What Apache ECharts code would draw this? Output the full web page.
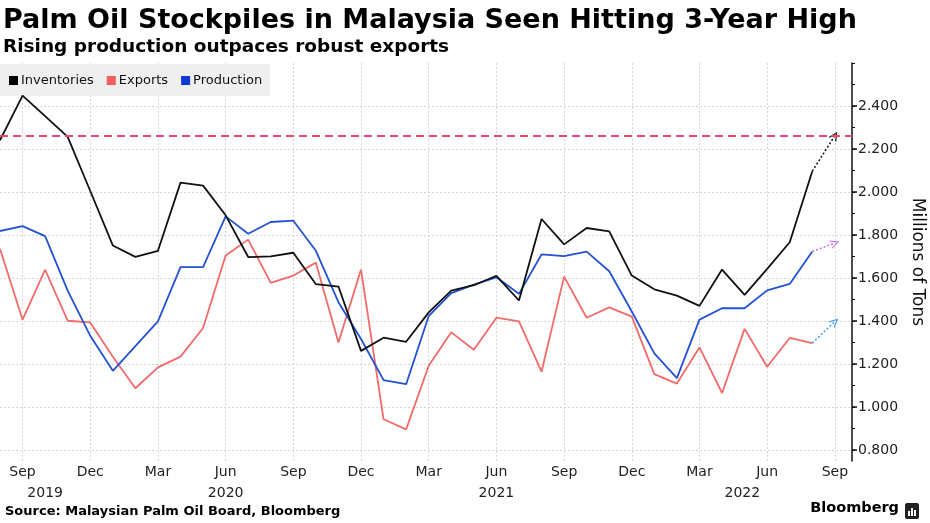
<!DOCTYPE html>
<html><head><meta charset="utf-8">
<script src="https://cdn.jsdelivr.net/npm/echarts@6/dist/echarts.min.js"></script>
<style>html,body{margin:0;padding:0;background:#fff}#c{width:930px;height:523px}</style>
</head><body><div id="c"></div>
<script>
const months = ['Aug 2019','Sep 2019','Oct 2019','Nov 2019','Dec 2019',
  'Jan 2020','Feb 2020','Mar 2020','Apr 2020','May 2020','Jun 2020','Jul 2020','Aug 2020','Sep 2020','Oct 2020','Nov 2020','Dec 2020',
  'Jan 2021','Feb 2021','Mar 2021','Apr 2021','May 2021','Jun 2021','Jul 2021','Aug 2021','Sep 2021','Oct 2021','Nov 2021','Dec 2021',
  'Jan 2022','Feb 2022','Mar 2022','Apr 2022','May 2022','Jun 2022','Jul 2022','Aug 2022'];
const projectionMonth = 'Sep 2022';
const inventories = [2.241,2.448,2.353,2.257,2.005,1.752,1.699,1.727,2.044,2.030,1.892,1.698,1.701,1.718,1.572,1.561,1.262,
  1.323,1.304,1.441,1.542,1.567,1.611,1.496,1.875,1.757,1.833,1.817,1.612,1.548,1.519,1.471,1.640,1.522,1.643,1.767,2.097];
const exportsData = [1.737,1.407,1.639,1.402,1.394,1.235,1.088,1.185,1.235,1.368,1.705,1.779,1.578,1.612,1.672,1.301,1.640,
  0.944,0.897,1.193,1.348,1.267,1.416,1.399,1.165,1.607,1.416,1.464,1.421,1.154,1.110,1.278,1.066,1.364,1.188,1.322,1.298];
const production = [1.819,1.842,1.795,1.542,1.332,1.169,1.284,1.399,1.651,1.651,1.887,1.806,1.861,1.867,1.727,1.488,1.317,
  1.126,1.107,1.424,1.530,1.570,1.604,1.527,1.710,1.702,1.723,1.632,1.445,1.250,1.135,1.407,1.460,1.460,1.543,1.573,1.724];
const inventoriesProjection = 2.262;
const exportsProjection = 1.398;
const productionProjection = 1.763;
const threeYearHigh = 2.262;
const monthTickNames = ['Sep','Dec','Mar','Jun'];
const yearLabels = ['2019','2020','2021','2022'];
const yearLabelAt = [2, 10, 22, 32.9];
const yTickLabels = [0.8,1.0,1.2,1.4,1.6,1.8,2.0,2.2,2.4];
const yMinorTicks = [0.8,0.9,1.0,1.1,1.2,1.3,1.4,1.5,1.6,1.7,1.8,1.9,2.0,2.1,2.2,2.3,2.4,2.5,2.6];

const allMonths = months.concat([projectionMonth]);
const monthTicks = [];
allMonths.forEach((m, i) => { if (monthTickNames.indexOf(m.split(' ')[0]) >= 0) monthTicks.push(i); });
const pairs = arr => arr.map((v, i) => [i, v]);
const last = months.length - 1;
const proj = months.length;

const FONT = 'DejaVu Sans';
const chevron = 'path://M0,10 L5,0 L10,10 L8.6,10 L5,2.8 L1.4,10 Z';

function projLine(lastVal, projVal, color) {
  return {
    silent: true, symbol: ['none', chevron], symbolSize: [9, 9],
    label: {show: false},
    lineStyle: {type: [2, 2], width: 1.5, color: color},
    data: [[{coord: [last, lastVal]}, {coord: [proj, projVal]}]]
  };
}

const chart = echarts.init(document.getElementById('c'));
chart.setOption({
  animation: false,
  backgroundColor: '#fff',
  title: [
    {text: 'Palm Oil Stockpiles in Malaysia Seen Hitting 3-Year High', left: 0, top: 7, padding: [0, 3],
     textStyle: {fontFamily: FONT, fontWeight: 'bold', fontSize: 27, color: '#000'}},
    {text: 'Rising production outpaces robust exports', left: 0, top: 38, padding: [0, 3],
     textStyle: {fontFamily: FONT, fontWeight: 'bold', fontSize: 18.5, color: '#000'}},
    {text: 'Source: Malaysian Palm Oil Board, Bloomberg', left: 0, top: 505, padding: [0, 5],
     textStyle: {fontFamily: FONT, fontWeight: 'bold', fontSize: 13, color: '#000'}},
    {text: 'Bloomberg', right: 31, top: 501, padding: 0,
     textStyle: {fontFamily: FONT, fontWeight: 'bold', fontSize: 14.5, color: '#000'}}
  ],
  graphic: [
    {type: 'group', left: 905, top: 503, children: [
      {type: 'rect', shape: {x: 0, y: 0, width: 14, height: 16, r: 2}, style: {fill: '#222'}},
      {type: 'rect', shape: {x: 3, y: 8, width: 2, height: 5}, style: {fill: '#fff'}},
      {type: 'rect', shape: {x: 6, y: 5, width: 2, height: 8}, style: {fill: '#fff'}},
      {type: 'rect', shape: {x: 9, y: 7, width: 2, height: 6}, style: {fill: '#fff'}}
    ]}
  ],
  legend: {
    left: 0, top: 64, padding: [10, 8, 9, 9], backgroundColor: '#efefef',
    itemWidth: 9, itemHeight: 9, itemGap: 13, icon: 'rect',
    textStyle: {fontFamily: FONT, fontSize: 13, color: '#111', padding: [0, 0, 0, -2]},
    data: ['Inventories', 'Exports', 'Production']
  },
  grid: {left: 0, right: 78, top: 63, bottom: 62, containLabel: false, outerBoundsMode: 'none'},
  xAxis: [
    {type: 'value', position: 'bottom', min: 0, max: 37.76,
     axisLine: {show: false, onZero: false},
     axisTick: {show: false, customValues: monthTicks},
     axisLabel: {customValues: monthTicks, margin: 4, fontFamily: FONT, fontSize: 14, color: '#222',
       formatter: v => allMonths[Math.round(v)].split(' ')[0]},
     splitLine: {show: true, lineStyle: {type: [2, 2], color: '#d6d6d6', width: 1}}},
    {type: 'value', position: 'bottom', offset: 21, min: 0, max: 37.76,
     axisLine: {show: false, onZero: false},
     axisTick: {show: false, customValues: yearLabelAt},
     axisLabel: {customValues: yearLabelAt, margin: 4, fontFamily: FONT, fontSize: 14, color: '#222',
       formatter: v => yearLabels[yearLabelAt.indexOf(v)]},
     splitLine: {show: false}}
  ],
  yAxis: [
    {type: 'value', position: 'right', min: 0.75, max: 2.6,
     name: 'Millions of Tons', nameLocation: 'middle', nameRotate: -90, nameGap: 54,
     nameTextStyle: {fontFamily: FONT, fontSize: 17, color: '#111'},
     axisLine: {show: true, onZero: false, lineStyle: {color: '#111', width: 1.5}},
     axisTick: {show: true, inside: false, length: 5, customValues: yTickLabels, lineStyle: {color: '#111', width: 1.5}},
     axisLabel: {customValues: yTickLabels, margin: 6, fontFamily: FONT, fontSize: 14, color: '#222',
       formatter: v => v.toFixed(3)},
     splitLine: {show: true, lineStyle: {type: [2, 2], color: '#d6d6d6', width: 1}}},
    {type: 'value', position: 'right', offset: 0, min: 0.75, max: 2.6,
     axisLine: {show: false, onZero: false},
     axisTick: {show: true, inside: false, length: 3, customValues: yMinorTicks, lineStyle: {color: '#111', width: 1}},
     axisLabel: {show: false},
     splitLine: {show: false}}
  ],
  series: [
    {name: 'Inventories', type: 'line', xAxisIndex: 0, yAxisIndex: 0, data: pairs(inventories),
     symbol: 'none', color: '#000', lineStyle: {color: '#111', width: 1.8}, z: 4,
     markLine: projLine(inventories[last], inventoriesProjection, '#111')},
    {name: 'Exports', type: 'line', xAxisIndex: 0, yAxisIndex: 0, data: pairs(exportsData),
     symbol: 'none', color: '#f25f5c', lineStyle: {color: '#f26a6a', width: 1.8}, z: 2,
     markLine: projLine(exportsData[last], exportsProjection, '#3f9be8')},
    {name: 'Production', type: 'line', xAxisIndex: 0, yAxisIndex: 0, data: pairs(production),
     symbol: 'none', color: '#1238d6', lineStyle: {color: '#2352d2', width: 1.8}, z: 3,
     markLine: projLine(production[last], productionProjection, '#c76ef0')},
    {type: 'line', xAxisIndex: 0, yAxisIndex: 0, data: [], z: 1,
     markLine: {silent: true, symbol: 'none', label: {show: false},
       lineStyle: {type: [8, 5], color: '#e8486b', width: 2},
       data: [{yAxis: threeYearHigh}]}}
  ]
});
</script>
</body></html>
